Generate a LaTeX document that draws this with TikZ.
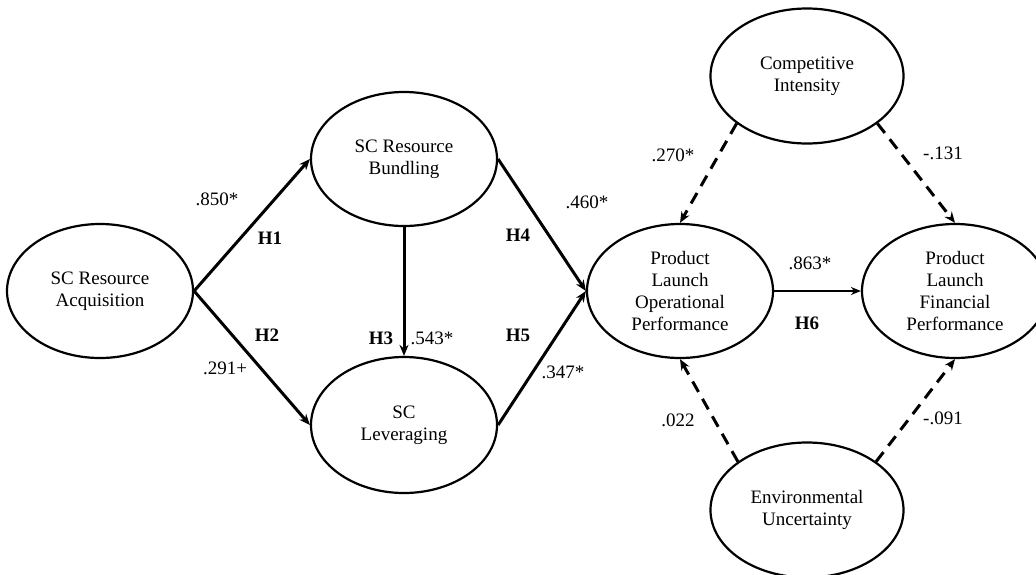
\documentclass[tikz,border=0pt]{standalone}
\usepackage{fontspec}
\setmainfont{Liberation Serif}
\usetikzlibrary{shapes.geometric,arrows.meta}
\begin{document}
\begin{tikzpicture}[x=1pt,y=-1pt,
  every node/.style={font=\fontsize{19}{22}\selectfont},
  latent/.style={ellipse,draw,line width=2.2pt,inner sep=0pt,minimum width=186pt,minimum height=134pt,align=center},
  modbox/.style={latent,minimum width=193pt,minimum height=135pt},
  path/.style={line width=3pt,-{Stealth[length=11pt,width=9pt]}},
  thinpath/.style={line width=2pt,-{Stealth[length=10pt,width=8pt]}},
  modpath/.style={line width=3pt,dash pattern=on 12pt off 8pt,-{Stealth[length=11pt,width=9pt]}},
  hyp/.style={font=\fontsize{19}{22}\selectfont\bfseries},
  coef/.style={}]
\useasboundingbox (0,0) rectangle (1036,574);
\node[latent] (acq) at (100,291) {SC Resource\\Acquisition};
\node[latent] (bund) at (404,159) {SC Resource\\Bundling};
\node[latent,minimum height=136pt] (lev) at (404,425) {SC\\Leveraging};
\node[latent] (plop) at (680,291) {Product\\Launch\\Operational\\Performance};
\node[latent] (plfp) at (955,291) {Product\\Launch\\Financial\\Performance};
\node[modbox] (ci) at (807,76) {Competitive\\Intensity};
\node[modbox] (eu) at (807,510) {Environmental\\Uncertainty};

\draw[path] (acq.east) -- (bund.west);
\draw[path] (acq.east) -- (lev.west);
\draw[path] (bund.south) -- (lev.north);
\draw[path] (bund.east) -- (plop.west);
\draw[path] (lev.east) -- (plop.west);
\draw[thinpath] (plop.east) -- (plfp.west);
\draw[modpath] (ci.214) -- (plop.north);
\draw[modpath] (ci.326) -- (plfp.north);
\draw[modpath] (eu.145) -- (plop.south);
\draw[modpath] (eu.35) -- (plfp.south);

\node[coef] (c1) at (217,199) {.850*};
\node[hyp] (h1) at (270,238) {H1};
\node[hyp] (h2) at (267,335) {H2};
\node[coef] (c2) at (225,368) {.291+};
\node[hyp] (h3) at (381,338) {H3};
\node[coef] (c3) at (432,338) {.543*};
\node[hyp] (h4) at (518,235) {H4};
\node[coef] (c4) at (587,202) {.460*};
\node[hyp] (h5) at (518,335) {H5};
\node[coef] (c5) at (563,372) {.347*};
\node[coef] (c6) at (810,263) {.863*};
\node[hyp] (h6) at (807,323) {H6};
\node[coef] (c7) at (673,155) {.270*};
\node[coef] (c8) at (943,153) {-.131};
\node[coef] (c9) at (678,420) {.022};
\node[coef] (c10) at (943,418) {-.091};
\end{tikzpicture}
\end{document}
